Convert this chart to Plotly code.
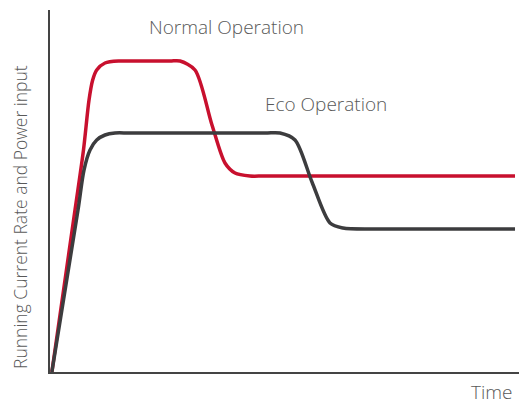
import plotly.graph_objects as go

# Curve key points (time units 0-100, level 0-100)
normal_x = [0.4, 5.33, 7.14, 8.32, 9.10, 9.96, 11.73, 14.93, 17.06, 25.59, 27.72, 30.92,
            34.54, 37.31, 39.45, 42.64, 45.84, 99.15]
normal_y = [0.0, 44.75, 61.33, 75.14, 80.66, 83.43, 85.36, 85.91, 85.91, 85.91, 85.91, 83.43,
            68.23, 57.73, 54.97, 54.14, 54.14, 54.14]

eco_x = [0.4, 5.97, 7.25, 8.53, 9.96, 11.73, 13.86, 17.06, 45.84, 49.04, 52.24, 55.86,
         59.70, 62.47, 68.23, 71.43, 99.15]
eco_y = [0.0, 44.75, 55.80, 61.33, 64.09, 65.47, 66.02, 66.02, 66.02, 66.02, 64.09, 52.49,
         41.16, 39.78, 39.50, 39.50, 39.50]

labels = ["Normal Operation", "Eco Operation"]
y_title = "Running Current Rate and Power input"
x_title = "Time"

RED = "#C8102E"
DARK = "#3c3c3e"
TXT = "#595959"
FONT = "Open Sans"

W, H = 519, 405
L, R, T, B = 50, 0, 10, 33
pw, ph = W - L - R, H - T - B

fig = go.Figure()
fig.add_trace(go.Scatter(x=normal_x, y=normal_y, mode="lines", name=labels[0],
                         line=dict(color=RED, width=3.5, shape="spline", smoothing=0.8)))
fig.add_trace(go.Scatter(x=eco_x, y=eco_y, mode="lines", name=labels[1],
                         line=dict(color=DARK, width=3.5, shape="spline", smoothing=0.8)))

fig.add_annotation(x=37.6, y=95.3, xref="x", yref="y", text=labels[0], showarrow=False,
                   xanchor="center", yanchor="middle",
                   font=dict(family=FONT, size=19, color=TXT, weight=300))
fig.add_annotation(x=58.8, y=74.0, xref="x", yref="y", text=labels[1], showarrow=False,
                   xanchor="center", yanchor="middle",
                   font=dict(family=FONT, size=19, color=TXT, weight=300))
fig.add_annotation(x=(20 - L) / pw, y=(H - B - 217) / ph, xref="paper", yref="paper",
                   text=y_title, showarrow=False, textangle=-90,
                   xanchor="center", yanchor="middle",
                   font=dict(family=FONT, size=17.5, color=TXT, weight=300))
fig.add_annotation(x=(514 - L) / pw, y=(H - B - 392) / ph, xref="paper", yref="paper",
                   text=x_title, showarrow=False, xanchor="right", yanchor="middle",
                   font=dict(family=FONT, size=19, color=TXT, weight=300))

fig.update_layout(
    width=W, height=H,
    margin=dict(l=L, r=R, t=T, b=B),
    paper_bgcolor="white", plot_bgcolor="white",
    showlegend=False,
    xaxis=dict(range=[0, 100], showgrid=False, zeroline=False, showticklabels=False,
               ticks="", showline=True, linecolor="#444444", linewidth=1.5, fixedrange=True),
    yaxis=dict(range=[0, 100], showgrid=False, zeroline=False, showticklabels=False,
               ticks="", showline=True, linecolor="#444444", linewidth=1.5, fixedrange=True),
)
fig.write_html("out.html", config={"displayModeBar": False},
               post_script="document.body.style.margin='0';document.body.style.padding='0';")
